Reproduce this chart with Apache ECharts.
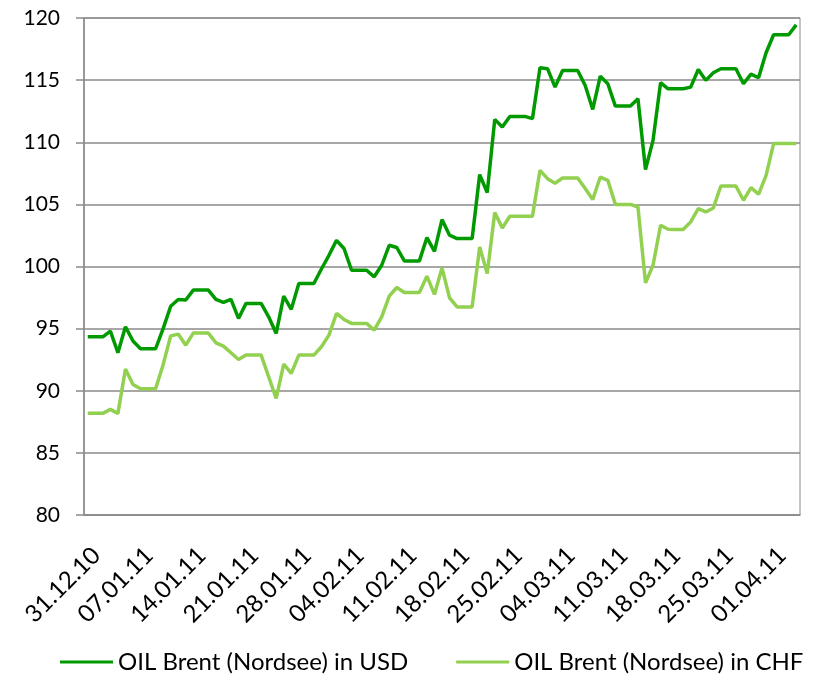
<!DOCTYPE html>
<html>
<head>
<meta charset="utf-8">
<script src="https://cdn.jsdelivr.net/npm/echarts@6/dist/echarts.min.js"></script>
<style>html,body{margin:0;padding:0;background:#fff}#c{width:814px;height:679px}</style>
</head>
<body>
<div id="c"></div>
<script>
var dates = ["31.12.10",
"01.01.11","02.01.11","03.01.11","04.01.11","05.01.11","06.01.11","07.01.11","08.01.11","09.01.11","10.01.11",
"11.01.11","12.01.11","13.01.11","14.01.11","15.01.11","16.01.11","17.01.11","18.01.11","19.01.11","20.01.11",
"21.01.11","22.01.11","23.01.11","24.01.11","25.01.11","26.01.11","27.01.11","28.01.11","29.01.11","30.01.11","31.01.11",
"01.02.11","02.02.11","03.02.11","04.02.11","05.02.11","06.02.11","07.02.11","08.02.11","09.02.11","10.02.11",
"11.02.11","12.02.11","13.02.11","14.02.11","15.02.11","16.02.11","17.02.11","18.02.11","19.02.11","20.02.11",
"21.02.11","22.02.11","23.02.11","24.02.11","25.02.11","26.02.11","27.02.11","28.02.11",
"01.03.11","02.03.11","03.03.11","04.03.11","05.03.11","06.03.11","07.03.11","08.03.11","09.03.11","10.03.11",
"11.03.11","12.03.11","13.03.11","14.03.11","15.03.11","16.03.11","17.03.11","18.03.11","19.03.11","20.03.11",
"21.03.11","22.03.11","23.03.11","24.03.11","25.03.11","26.03.11","27.03.11","28.03.11","29.03.11","30.03.11","31.03.11",
"01.04.11","02.04.11","03.04.11","04.04.11"];

var usd = [94.34,94.34,94.34,94.8,93.06,95.15,94.0,93.38,93.38,93.38,
95.0,96.8,97.35,97.3,98.1,98.1,98.1,97.35,97.11,97.35,
95.82,97.03,97.03,97.03,95.95,94.61,97.61,96.55,98.63,98.63,
98.63,99.8,100.9,102.1,101.45,99.7,99.7,99.7,99.17,100.1,
101.71,101.53,100.45,100.45,100.45,102.33,101.22,103.78,102.52,102.25,
102.25,102.25,107.4,105.95,111.84,111.22,112.08,112.08,112.08,111.9,
116.0,115.92,114.44,115.78,115.78,115.78,114.57,112.64,115.32,114.71,
112.91,112.91,112.91,113.5,107.8,110.15,114.79,114.3,114.3,114.3,
114.44,115.86,114.98,115.59,115.91,115.91,115.91,114.71,115.48,115.19,
117.2,118.65,118.65,118.65,119.45];

var chf = [88.18,88.18,88.18,88.5,88.18,91.74,90.51,90.16,90.16,90.16,
92.1,94.42,94.56,93.67,94.64,94.64,94.64,93.86,93.59,93.06,
92.52,92.87,92.87,92.87,91.13,89.38,92.14,91.4,92.87,92.87,
92.87,93.54,94.48,96.22,95.74,95.42,95.42,95.42,94.88,95.95,
97.61,98.31,97.91,97.91,97.91,99.22,97.75,99.89,97.48,96.75,
96.75,96.75,101.58,99.44,104.34,103.1,104.04,104.04,104.04,104.04,
107.74,107.07,106.7,107.12,107.12,107.12,106.27,105.39,107.2,106.94,
105.0,105.0,105.0,104.79,98.68,100.1,103.32,103.0,102.97,102.97,
103.59,104.66,104.39,104.71,106.48,106.48,106.48,105.33,106.35,105.81,
107.34,109.89,109.89,109.89,109.89];

var seriesNames = ["OIL Brent (Nordsee) in USD", "OIL Brent (Nordsee) in CHF"];
var seriesColors = ["#009a00", "#92d050"];

var FONT = "Lato";
var chart = echarts.init(document.getElementById('c'), null, {renderer: 'canvas'});
var weekly = function (i) { return i % 7 === 0; };
chart.setOption({
  animation: false,
  backgroundColor: '#ffffff',
  grid: {left: 84, right: 14, top: 18, bottom: 164, show: true, borderColor: '#8a8a8a', borderWidth: 1},
  legend: {
    top: 650, left: 60, width: 754, padding: 0, itemGap: 48, icon: 'rect', itemWidth: 53, itemHeight: 3,
    textStyle: {fontFamily: FONT, fontSize: 24, color: '#000'},
    data: seriesNames
  },
  xAxis: {
    type: 'category', data: dates, boundaryGap: true,
    axisLine: {lineStyle: {color: '#8a8a8a', width: 1.5}},
    axisTick: {interval: weekly, length: 7, lineStyle: {color: '#8a8a8a', width: 1.5}},
    axisLabel: {interval: weekly, rotate: 45, margin: 28, align: 'right', verticalAlign: 'top',
                fontFamily: FONT, fontSize: 24, color: '#000'},
    splitLine: {show: false}
  },
  yAxis: {
    type: 'value', min: 80, max: 120, interval: 5,
    axisLine: {show: true, lineStyle: {color: '#8a8a8a', width: 1.5}},
    axisTick: {show: true, length: 8, lineStyle: {color: '#8a8a8a', width: 1.5}},
    axisLabel: {margin: 24, fontFamily: FONT, fontSize: 21, color: '#000'},
    splitLine: {lineStyle: {color: '#8a8a8a', width: 1.5}}
  },
  series: [
    {name: seriesNames[0], type: 'line', data: usd, symbol: 'none', color: seriesColors[0], lineStyle: {width: 3.5, color: seriesColors[0]}},
    {name: seriesNames[1], type: 'line', data: chf, symbol: 'none', color: seriesColors[1], lineStyle: {width: 3.5, color: seriesColors[1]}}
  ]
});
</script>
</body>
</html>
